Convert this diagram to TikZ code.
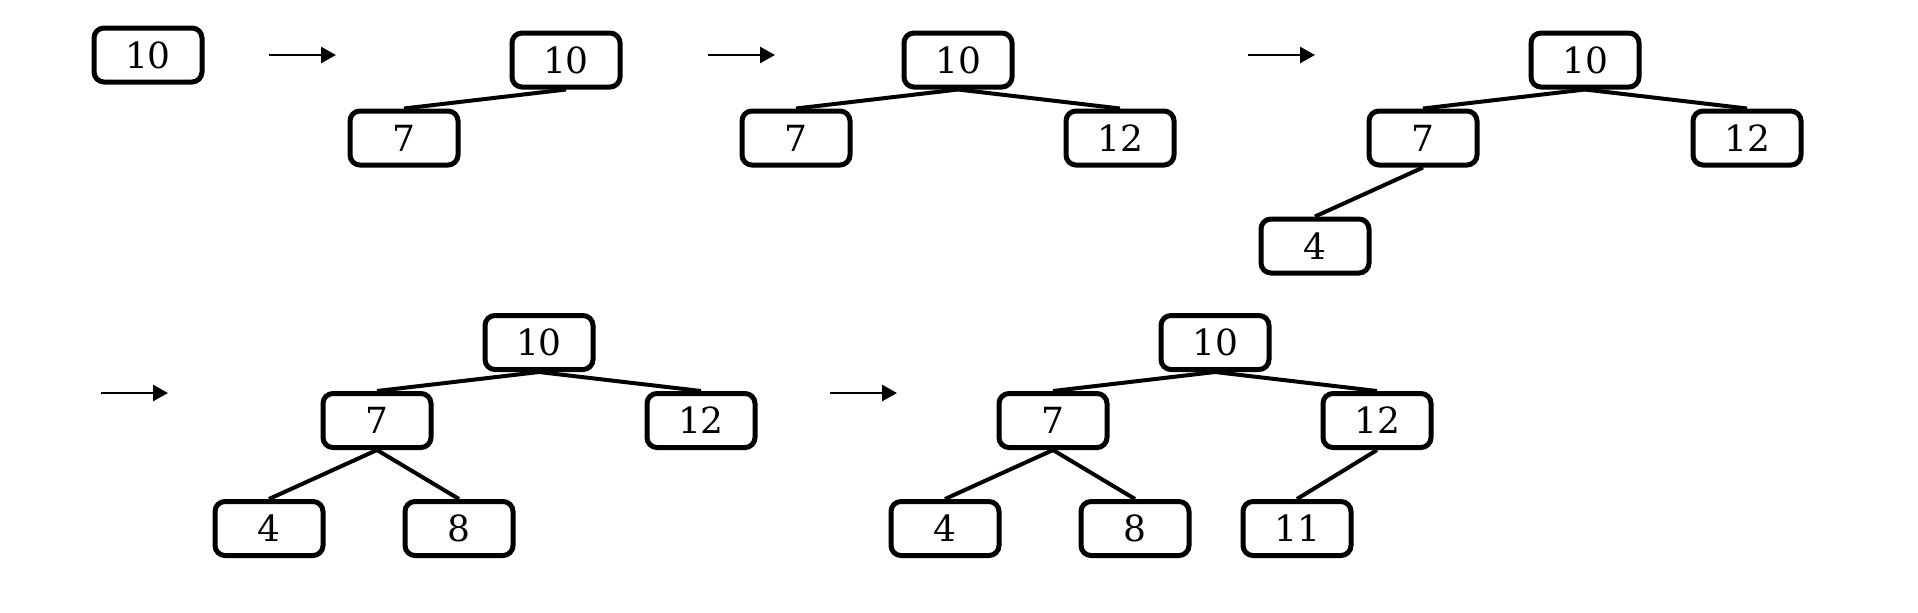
\documentclass[tikz,border=0pt]{standalone}
\usepackage{fontspec}
\setmainfont{DejaVu Serif}
\usetikzlibrary{positioning,arrows.meta}

\tikzset{
    key/.style={draw, line width=2.5pt, rounded corners=5pt, minimum width=54pt, minimum height=27pt, inner sep=0pt, font=\fontsize{18}{20}\selectfont},
    link/.style={line width=2pt},
    goes/.style={line width=1.3pt, -{Triangle[length=7.5pt,width=8pt]}}
}

\begin{document}
\begin{tikzpicture}[x=0.5pt, y=-0.5pt, on grid]
        \useasboundingbox (0,0) rectangle (1918,612);

        % first row
        \node[key] (a10) at (148,55) {10};

        \node[key] (b10) at (566,60) {10};
        \node[key] (b7) [below left=39pt and 81pt of b10] {7};

        \node[key] (c10) at (958,60) {10};
        \node[key] (c7) [below left=39pt and 81pt of c10] {7};
        \node[key] (c12) [below right=39pt and 81pt of c10] {12};

        \node[key] (d10) at (1585,60) {10};
        \node[key] (d7) [below left=39pt and 81pt of d10] {7};
        \node[key] (d12) [below right=39pt and 81pt of d10] {12};
        \node[key] (d4) [below left=54pt and 54pt of d7] {4};

        % second row
        \node[key] (e10) at (539,342.5) {10};
        \node[key] (e7) [below left=39pt and 81pt of e10] {7};
        \node[key] (e12) [below right=39pt and 81pt of e10] {12};
        \node[key] (e4) [below left=54pt and 54pt of e7] {4};
        \node[key] (e8) [below right=54pt and 41pt of e7] {8};

        \node[key] (f10) at (1215,342.5) {10};
        \node[key] (f7) [below left=39pt and 81pt of f10] {7};
        \node[key] (f12) [below right=39pt and 81pt of f10] {12};
        \node[key] (f4) [below left=54pt and 54pt of f7] {4};
        \node[key] (f8) [below right=54pt and 41pt of f7] {8};
        \node[key] (f11) [below left=54pt and 40pt of f12] {11};

        % arrows between steps
        \coordinate (s1) at (269,55);   \coordinate (t1) at (336,55);
        \coordinate (s2) at (708,55);   \coordinate (t2) at (775,55);
        \coordinate (s3) at (1248,55);  \coordinate (t3) at (1315,55);
        \coordinate (s4) at (101,393);  \coordinate (t4) at (168,393);
        \coordinate (s5) at (830,393);  \coordinate (t5) at (897,393);

        \path[goes]
            (s1) edge (t1)
            (s2) edge (t2)
            (s3) edge (t3)
            (s4) edge (t4)
            (s5) edge (t5)
        ;

        \path[link]
            (b10.south) edge (b7.north)
            (c10.south) edge (c7.north)
            (c10.south) edge (c12.north)
            (d10.south) edge (d7.north)
            (d10.south) edge (d12.north)
            (d7.south) edge (d4.north)
            (e10.south) edge (e7.north)
            (e10.south) edge (e12.north)
            (e7.south) edge (e4.north)
            (e7.south) edge (e8.north)
            (f10.south) edge (f7.north)
            (f10.south) edge (f12.north)
            (f7.south) edge (f4.north)
            (f7.south) edge (f8.north)
            (f12.south) edge (f11.north)
        ;
    \end{tikzpicture}
\end{document}
